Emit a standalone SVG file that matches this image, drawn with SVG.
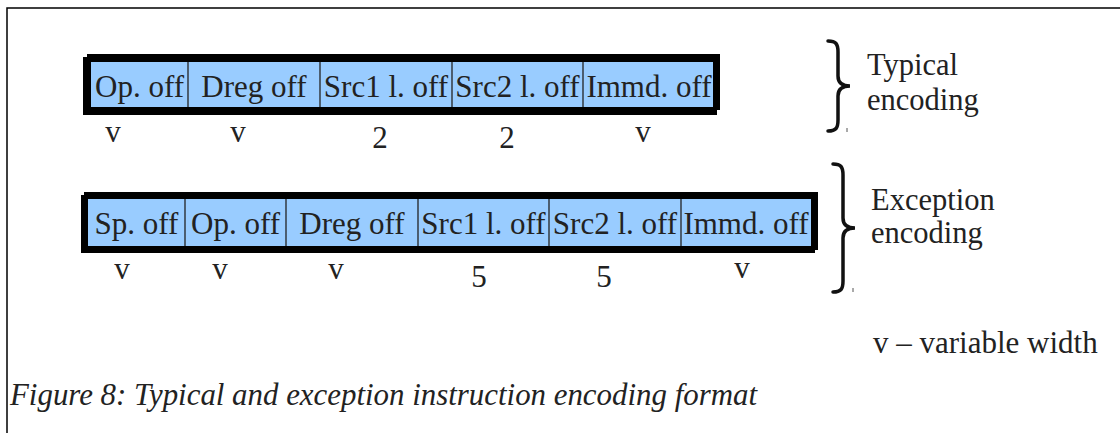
<svg xmlns="http://www.w3.org/2000/svg" width="1120" height="433" viewBox="0 0 1120 433">
<style>
text{font-family:"Liberation Serif","Times New Roman",serif;fill:#222;font-size:31px}
.c{text-anchor:middle}
.lbl{font-size:30.5px}
.bar{fill:#000}
.cell{fill:#99ccff}
.div{stroke:#222;stroke-width:1.3}
.brace{fill:none;stroke:#111;stroke-width:3.5;stroke-linecap:round}
.tick{stroke:#555;stroke-width:1}
</style>
<rect x="7" y="8" width="1130" height="440" fill="#fff" stroke="#000" stroke-width="1.5"/>

<g id="typical">
  <rect class="bar" x="87" y="54" width="633" height="56"/>
  <rect class="bar" x="83" y="57" width="634" height="58"/>
  <rect class="cell" x="91" y="62" width="622" height="45"/>
  <g id="t-op"><text class="c" x="139.5" y="97">Op. off</text></g>
  <g id="t-dreg"><text class="c" x="254" y="97">Dreg off</text></g>
  <g id="t-src1"><text class="c" x="386" y="97">Src1 l. off</text></g>
  <g id="t-src2"><text class="c" x="517.5" y="97">Src2 l. off</text></g>
  <g id="t-immd"><text class="c" x="649" y="97">Immd. off</text></g>
  <rect class="bar" x="713" y="54" width="7" height="56"/>
  <line class="div" x1="188" y1="62" x2="188" y2="107"/>
  <line class="div" x1="320" y1="62" x2="320" y2="107"/>
  <line class="div" x1="452" y1="62" x2="452" y2="107"/>
  <line class="div" x1="583" y1="62" x2="583" y2="107"/>
  <text class="c" x="113" y="142">v</text>
  <text class="c" x="238" y="142">v</text>
  <text class="c" x="380" y="148">2</text>
  <text class="c" x="507" y="148">2</text>
  <text class="c" x="643" y="142">v</text>
</g>

<g id="exception">
  <rect class="bar" x="84" y="192" width="734" height="58"/>
  <rect class="bar" x="81" y="195" width="734" height="58"/>
  <rect class="cell" x="88" y="199" width="723" height="47"/>
  <g id="e-sp"><text class="c" x="136.5" y="234">Sp. off</text></g>
  <g id="e-op"><text class="c" x="235.5" y="234">Op. off</text></g>
  <g id="e-dreg"><text class="c" x="352" y="234">Dreg off</text></g>
  <g id="e-src1"><text class="c" x="483.5" y="234">Src1 l. off</text></g>
  <g id="e-src2"><text class="c" x="615" y="234">Src2 l. off</text></g>
  <g id="e-immd"><text class="c" x="746" y="234">Immd. off</text></g>
  <rect class="bar" x="811" y="192" width="7" height="58"/>
  <line class="div" x1="185" y1="199" x2="185" y2="246"/>
  <line class="div" x1="286" y1="199" x2="286" y2="246"/>
  <line class="div" x1="418" y1="199" x2="418" y2="246"/>
  <line class="div" x1="549" y1="199" x2="549" y2="246"/>
  <line class="div" x1="681" y1="199" x2="681" y2="246"/>
  <text class="c" x="122" y="279">v</text>
  <text class="c" x="220" y="279">v</text>
  <text class="c" x="336" y="279">v</text>
  <text class="c" x="479" y="287">5</text>
  <text class="c" x="604" y="287">5</text>
  <text class="c" x="742" y="278">v</text>
</g>

<g id="brace-typical">
  <path class="brace" d="M828,41 C836,41 838,44 838,52 L838,76 C838,83 842,86 850,86 C842,86 838,89 838,96 L838,120 C838,128 836,131 828,131"/>
  <line class="tick" x1="847" y1="128" x2="847" y2="132"/>
  <text class="lbl" x="867" y="75">Typical</text>
  <text class="lbl" x="867" y="110">encoding</text>
</g>

<g id="brace-exception">
  <path class="brace" d="M833,164 C841,164 843,167 843,175 L843,218 C843,225 847,228 855,228 C847,228 843,231 843,238 L843,281 C843,289 841,292 833,292"/>
  <line class="tick" x1="853" y1="288" x2="853" y2="292"/>
  <text class="lbl" x="871" y="210">Exception</text>
  <text class="lbl" x="871" y="243">encoding</text>
</g>

<g id="legend">
  <text x="873" y="353">v – variable width</text>
</g>

<g id="caption">
  <text x="10" y="405" font-style="italic" font-size="30" textLength="747" lengthAdjust="spacingAndGlyphs">Figure 8: Typical and exception instruction encoding format</text>
</g>
</svg>
